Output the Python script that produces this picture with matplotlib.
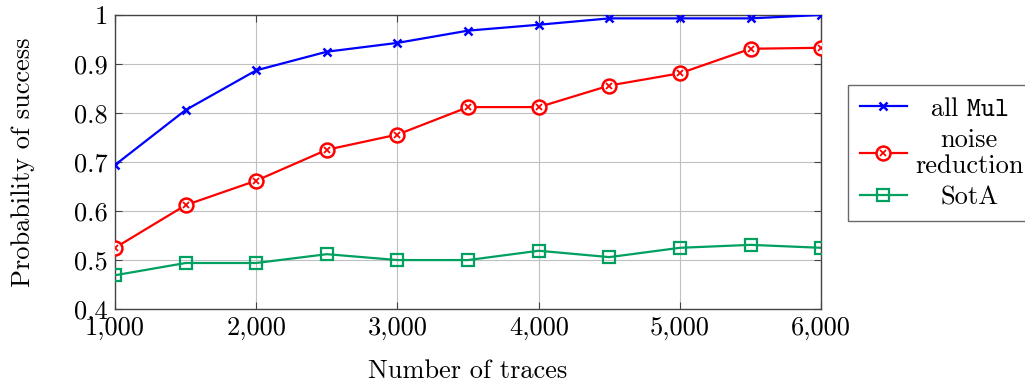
import matplotlib
matplotlib.use("Agg")
import matplotlib.pyplot as plt
from matplotlib.legend_handler import HandlerTuple

plt.rcParams["font.family"] = "serif"
plt.rcParams["font.serif"] = ["cmr10"]
plt.rcParams["mathtext.fontset"] = "cm"
plt.rcParams["axes.formatter.use_mathtext"] = True

traces = [1000, 1500, 2000, 2500, 3000, 3500, 4000, 4500, 5000, 5500, 6000]
all_mul = [0.694, 0.806, 0.887, 0.925, 0.943, 0.968, 0.980, 0.993, 0.993, 0.993, 1.000]
noise_red = [0.525, 0.612, 0.662, 0.725, 0.756, 0.812, 0.812, 0.856, 0.881, 0.931, 0.933]
sota = [0.469, 0.494, 0.494, 0.512, 0.500, 0.500, 0.519, 0.506, 0.525, 0.531, 0.525]

x_ticks = [1000, 2000, 3000, 4000, 5000, 6000]
x_labels = ["1,000", "2,000", "3,000", "4,000", "5,000", "6,000"]
y_ticks = [0.4, 0.5, 0.6, 0.7, 0.8, 0.9, 1.0]
y_labels = ["0.4", "0.5", "0.6", "0.7", "0.8", "0.9", "1"]
legend_labels = [r"all $\mathtt{Mul}$", "noise\nreduction", "SotA"]

BLUE = "#0000ff"
RED = "#ff0000"
GREEN = "#00a060"
FS = 19

fig = plt.figure(figsize=(10.25, 3.83), dpi=100)
ax = fig.add_axes([0.1122, 0.193, 0.689, 0.768])

l1, = ax.plot(traces, all_mul, color=BLUE, lw=1.6, marker="x", ms=6, mew=1.8, zorder=3)
l2a, = ax.plot(traces, noise_red, color=RED, lw=1.6, marker="o", ms=10, mfc="white",
               mew=1.8, zorder=3)
l2b, = ax.plot(traces, noise_red, ls="none", color=RED, marker="x", ms=5, mew=1.3, zorder=4)
l3, = ax.plot(traces, sota, color=GREEN, lw=1.6, marker="s", ms=9, mfc="none", mew=1.6,
              zorder=3)

ax.set_xlim(1000, 6000)
ax.set_ylim(0.4, 1.0)
ax.set_xticks(x_ticks)
ax.set_xticklabels(x_labels)
ax.set_yticks(y_ticks)
ax.set_yticklabels(y_labels)
ax.tick_params(direction="in", top=True, right=True, labelsize=FS, length=5,
               color="#444444", pad=5)
ax.grid(True, color="#c0c0c0", linewidth=0.8)
for s in ax.spines.values():
    s.set_color("#444444")
    s.set_linewidth(1.0)

ax.set_xlabel("Number of traces", fontsize=FS, labelpad=14)
ax.set_ylabel("Probability of success", fontsize=FS, labelpad=28)

leg = fig.legend([l1, (l2a, l2b), l3], legend_labels,
                 handler_map={tuple: HandlerTuple(ndivide=1)},
                 loc="upper left", bbox_to_anchor=(0.827, 0.778),
                 borderaxespad=0.0,
                 fontsize=FS, frameon=True, fancybox=False, edgecolor="#444444",
                 handlelength=1.8, handletextpad=0.3, labelspacing=0.3,
                 borderpad=0.45)
leg.get_frame().set_linewidth(1.0)
texts = leg.get_texts()
for t in texts:
    t.set_multialignment("center")
    t.set_linespacing(1.1)

# centre each legend entry inside the text column
fig.canvas.draw()
renderer = fig.canvas.get_renderer()
widths = [t.get_window_extent(renderer).width for t in texts]
maxw = max(widths)
for t, w in zip(texts, widths):
    t.set_x((maxw - w) / 2)

fig.savefig("out.png", dpi=100)
